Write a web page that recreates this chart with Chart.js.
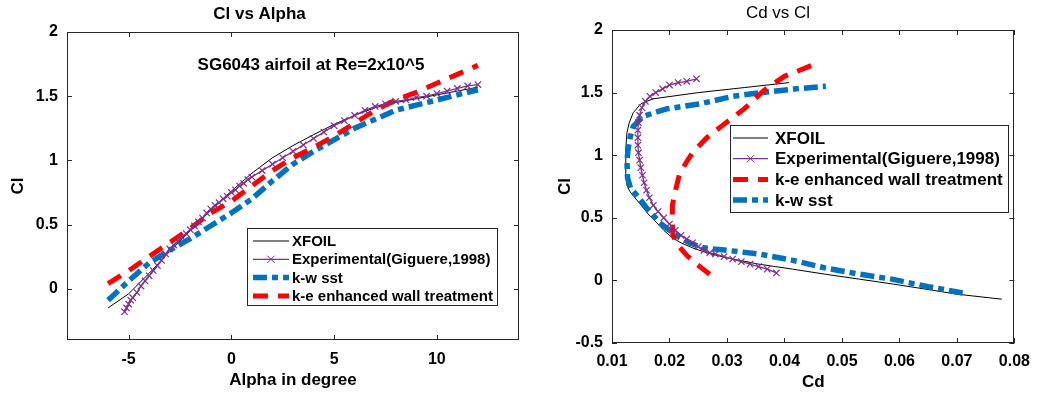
<!DOCTYPE html>
<html><head><meta charset="utf-8">
<script src="https://cdn.jsdelivr.net/npm/chart.js@4/dist/chart.umd.min.js"></script>
<style>
html,body{margin:0;padding:0;background:#fff;width:1039px;height:394px;overflow:hidden}
#c1{position:absolute;left:0;top:0}
#c2{position:absolute;left:540px;top:0}
</style></head><body>
<canvas id="c1" width="540" height="394"></canvas>
<canvas id="c2" width="499" height="394"></canvas>
<script>
// ---------- Panel 1: Cl vs Alpha ----------
const alphaXfoil = [-6,-5,-4,-3,-2,-1,0,1,2,3,4,5,6,7,8,9,10,11,12];
const clXfoil = [-0.15,-0.04,0.12,0.29,0.45,0.61,0.76,0.9,1.02,1.115,1.2,1.28,1.35,1.41,1.45,1.48,1.51,1.54,1.57];

const alphaExp = [-5.2,-5.1,-5.0,-4.9,-4.8,-4.6,-4.4,-4.2,-4.0,-3.8,-3.6,-3.4,-3.2,-3.0,-2.8,-2.6,-2.4,-2.2,-2.0,-1.8,-1.6,-1.4,-1.2,-1.0,-0.8,-0.6,-0.4,-0.2,0,0.2,0.4,0.6,0.8,1.0,1.5,2.0,2.5,3.0,3.5,4.0,4.5,5.0,5.5,6.0,6.5,7.0,7.5,8.0,8.5,9.0,9.5,10.0,10.5,11.0,11.5,12.0];
const clExp = [-0.18,-0.15,-0.12,-0.09,-0.07,-0.03,0.02,0.06,0.10,0.14,0.18,0.22,0.27,0.31,0.34,0.37,0.40,0.43,0.46,0.49,0.52,0.55,0.59,0.62,0.65,0.67,0.70,0.72,0.75,0.77,0.80,0.82,0.85,0.87,0.92,0.97,1.02,1.07,1.12,1.17,1.22,1.27,1.31,1.35,1.39,1.42,1.44,1.46,1.47,1.49,1.50,1.52,1.54,1.56,1.58,1.59];

const alphaCfd = [-6,-5,-4,-3,-2,-1,0,1,2,3,4,5,6,7,8,9,10,11,12];
const clKw = [-0.09,0.06,0.2,0.3,0.39,0.49,0.59,0.7,0.84,0.97,1.07,1.16,1.25,1.32,1.39,1.43,1.47,1.51,1.55];
const clKe = [0.04,0.14,0.25,0.36,0.47,0.59,0.68,0.8,0.92,1.02,1.1,1.19,1.29,1.39,1.47,1.53,1.6,1.67,1.74];

const alphaTicks = [-5,0,5,10];
const clTicks1 = [0,0.5,1,1.5,2];
const clTickLabels1 = ['0','0.5','1','1.5','2'];

// ---------- Panel 2: Cd vs Cl ----------
const cdXfoil = [0.0778,0.0700,0.0646,0.0590,0.0530,0.0470,0.0414,0.0355,0.0300,0.0265,0.0240,0.0220,0.0205,0.0190,0.0178,0.0163,0.0149,0.0138,0.0131,0.0126,0.0124,0.0124,0.0126,0.0130,0.0137,0.0150,0.0171,0.0250,0.0330,0.0408];
const clXfoil2 = [-0.15,-0.11,-0.07,-0.03,0.01,0.05,0.09,0.13,0.18,0.22,0.26,0.30,0.34,0.40,0.46,0.53,0.61,0.67,0.71,0.76,0.85,1.05,1.18,1.26,1.34,1.41,1.45,1.50,1.54,1.58];

const cdExp = [0.0386,0.0370,0.0355,0.0340,0.0325,0.0310,0.0295,0.0280,0.0270,0.0260,0.0250,0.0240,0.0230,0.0220,0.0210,0.0200,0.0190,0.0180,0.0172,0.0165,0.0160,0.0156,0.0153,0.0150,0.0148,0.0146,0.0145,0.0145,0.0145,0.0146,0.0148,0.0152,0.0158,0.0166,0.0176,0.0188,0.0200,0.0215,0.0230,0.0247];
const clExp2 = [0.06,0.09,0.11,0.13,0.15,0.17,0.19,0.21,0.22,0.24,0.27,0.30,0.33,0.36,0.40,0.45,0.50,0.55,0.60,0.66,0.72,0.78,0.84,0.90,0.96,1.02,1.08,1.14,1.20,1.26,1.32,1.38,1.43,1.47,1.50,1.53,1.56,1.58,1.59,1.61];

const cdKe = [0.0270,0.0247,0.0230,0.0215,0.0206,0.0205,0.0205,0.0210,0.0218,0.0240,0.0265,0.0290,0.0330,0.0365,0.0400,0.0460];
const clKe2 = [0.05,0.13,0.20,0.28,0.36,0.46,0.60,0.71,0.86,1.02,1.14,1.23,1.37,1.52,1.63,1.74];

const cdKw = [0.0710,0.0650,0.0587,0.0530,0.0470,0.0415,0.0357,0.0300,0.0258,0.0235,0.0218,0.0200,0.0183,0.0160,0.0143,0.0132,0.0127,0.0126,0.0128,0.0132,0.0137,0.0154,0.0195,0.0253,0.0310,0.0360,0.0420,0.0472];
const clKw2 = [-0.10,-0.05,0.01,0.05,0.10,0.16,0.21,0.24,0.26,0.30,0.34,0.40,0.46,0.58,0.68,0.74,0.82,0.95,1.05,1.15,1.23,1.31,1.37,1.41,1.47,1.50,1.53,1.55];

const cdTicks = [0.01,0.02,0.03,0.04,0.05,0.06,0.07,0.08];
const cdTickLabels = ['0.01','0.02','0.03','0.04','0.05','0.06','0.07','0.08'];
const clTicks2 = [-0.5,0,0.5,1,1.5,2];
const clTickLabels2 = ['-0.5','0','0.5','1','1.5','2'];

const seriesNames = ['XFOIL','Experimental(Giguere,1998)','k-w sst','k-e enhanced wall treatment'];

// ---------- helpers ----------
const FONT = "'Liberation Sans', Arial, sans-serif";
const pts = (xs, ys) => xs.map((x, i) => ({x: x, y: ys[i]}));
const C_BLACK = '#000000', C_PURPLE = '#7E2F8E', C_BLUE = '#0072BD', C_RED = '#FF0000';

function dsXfoil(data){return {label:seriesNames[0],data,borderColor:C_BLACK,borderWidth:1,pointRadius:0,showLine:true,order:3};}
function dsExp(data){return {label:seriesNames[1],data,borderColor:C_PURPLE,borderWidth:1.3,pointStyle:'crossRot',pointRadius:4.5,pointBorderColor:C_PURPLE,pointBorderWidth:1.2,pointBackgroundColor:C_PURPLE,showLine:true,order:0};}
function dsKw(data){return {label:seriesNames[2],data,borderColor:C_BLUE,borderWidth:5.5,borderDash:[14,5,6,5],pointRadius:0,showLine:true,order:2};}
function dsKe(data){return {label:seriesNames[3],data,borderColor:C_RED,borderWidth:5,borderDash:[15,10],pointRadius:0,showLine:true,order:1};}

const framePlugin = {
  id: 'frame',
  beforeDatasetsDraw(chart) {
    const {ctx, chartArea: a, scales} = chart;
    ctx.save();
    ctx.strokeStyle = '#262626'; ctx.lineWidth = 1;
    ctx.strokeRect(Math.round(a.left)+0.5, Math.round(a.top)+0.5, Math.round(a.right-a.left)-1, Math.round(a.bottom-a.top)-1);
    const L = 5;
    ctx.beginPath();
    scales.x.ticks.forEach(t => {
      const p = Math.round(scales.x.getPixelForValue(t.value)) + 0.5;
      ctx.moveTo(p, a.bottom); ctx.lineTo(p, a.bottom - L);
      ctx.moveTo(p, a.top); ctx.lineTo(p, a.top + L);
    });
    scales.y.ticks.forEach(t => {
      const p = Math.round(scales.y.getPixelForValue(t.value)) + 0.5;
      ctx.moveTo(a.left, p); ctx.lineTo(a.left + L, p);
      ctx.moveTo(a.right, p); ctx.lineTo(a.right - L, p);
    });
    ctx.stroke();
    ctx.restore();
  }
};

const boxLegendPlugin = {
  id: 'boxLegend',
  afterDatasetsDraw(chart, args, o) {
    if (!o || !o.items) return;
    const {ctx} = chart;
    const ds = chart.data.datasets;
    ctx.save();
    ctx.fillStyle = '#fff';
    ctx.fillRect(o.x, o.y, o.w, o.h);
    ctx.strokeStyle = '#262626'; ctx.lineWidth = 1;
    ctx.strokeRect(o.x + 0.5, o.y + 0.5, o.w, o.h);
    o.items.forEach((idx, i) => {
      const d = ds[idx];
      const y = o.y + o.first + i * o.step;
      ctx.beginPath();
      ctx.strokeStyle = d.borderColor; ctx.lineWidth = d.borderWidth;
      ctx.setLineDash(d.borderDash || []);
      ctx.moveTo(o.x + o.s0, y); ctx.lineTo(o.x + o.s1, y); ctx.stroke();
      ctx.setLineDash([]);
      if (d.pointRadius > 0) {
        const cx = o.x + (o.s0 + o.s1) / 2, r = d.pointRadius * 0.8;
        ctx.beginPath(); ctx.lineWidth = 1; ctx.strokeStyle = d.pointBorderColor;
        ctx.moveTo(cx - r, y - r); ctx.lineTo(cx + r, y + r);
        ctx.moveTo(cx - r, y + r); ctx.lineTo(cx + r, y - r); ctx.stroke();
      }
      ctx.fillStyle = '#000'; ctx.font = o.font; ctx.textBaseline = 'middle'; ctx.textAlign = 'left';
      ctx.fillText(d.label, o.x + o.tx, y + 1);
    });
    ctx.restore();
  }
};

const notePlugin = {
  id: 'note',
  afterDraw(chart, args, o) {
    if (!o || !o.text) return;
    const {ctx} = chart;
    ctx.save();
    ctx.font = o.font; ctx.fillStyle = '#000'; ctx.textAlign = 'center'; ctx.textBaseline = 'middle';
    ctx.fillText(o.text, o.x, o.y);
    ctx.restore();
  }
};

function fixedTicks(values) {
  return function(scale) { scale.ticks = values.map(v => ({value: v})); };
}

function makeChart(el, cfg) {
  return new Chart(document.getElementById(el), {
    type: 'scatter',
    data: {datasets: cfg.datasets},
    options: {
      responsive: false, animation: false, devicePixelRatio: 1, events: [],
      layout: {padding: {left: 0, right: cfg.padRight, top: 0, bottom: 0}},
      elements: {line: {tension: 0, borderCapStyle: 'butt', borderJoinStyle: 'miter'}},
      plugins: {
        legend: {display: false}, tooltip: {enabled: false},
        title: {display: true, text: cfg.title, color: '#000',
          font: {family: FONT, size: 17, weight: cfg.titleWeight}, padding: cfg.titlePad},
        boxLegend: cfg.legend,
        note: cfg.note || {}
      },
      scales: {
        x: {
          type: 'linear', min: cfg.xMin, max: cfg.xMax,
          afterBuildTicks: fixedTicks(cfg.xTicks),
          afterFit: s => { s.height = cfg.xHeight; },
          grid: {display: false, drawTicks: false}, border: {display: false},
          ticks: {font: {family: FONT, size: 16, weight: 'bold'}, color: '#000', padding: cfg.xTickPad, maxRotation: 0,
            autoSkip: false, callback: (v, i) => cfg.xLabels[i]},
          title: {display: true, text: cfg.xTitle, color: '#000', font: {family: FONT, size: 17, weight: 'bold'},
            padding: {top: 0, bottom: cfg.xTitlePad}}
        },
        y: {
          type: 'linear', min: cfg.yMin, max: cfg.yMax,
          afterBuildTicks: fixedTicks(cfg.yTicks),
          afterFit: s => { s.width = cfg.yWidth; },
          grid: {display: false, drawTicks: false}, border: {display: false},
          ticks: {font: {family: FONT, size: 16, weight: 'bold'}, color: '#000', padding: 9,
            autoSkip: false, callback: (v, i) => cfg.yLabels[i]},
          title: {display: true, text: 'Cl', color: '#000', font: {family: FONT, size: 17, weight: 'bold'},
            padding: {top: cfg.yTitlePad, bottom: 0}}
        }
      }
    },
    plugins: [framePlugin, boxLegendPlugin, notePlugin]
  });
}

makeChart('c1', {
  datasets: [
    dsXfoil(pts(alphaXfoil, clXfoil)),
    dsExp(pts(alphaExp, clExp)),
    dsKw(pts(alphaCfd, clKw)),
    dsKe(pts(alphaCfd, clKe))
  ],
  title: 'Cl vs Alpha', titleWeight: 'bold', titlePad: {top: 4, bottom: 7.6},
  padRight: 21,
  xMin: -8, xMax: 14, xTicks: alphaTicks, xLabels: alphaTicks.map(String), xHeight: 54, xTickPad: 10,
  xTitle: 'Alpha in degree', xTitlePad: 3,
  yMin: -0.4, yMax: 2, yTicks: clTicks1, yLabels: clTickLabels1, yWidth: 67, yTitlePad: 8,
  legend: {items: [0,1,2,3], x: 247, y: 228, w: 250, h: 77, s0: 6, s1: 42, tx: 45, first: 13, step: 18.3,
    font: "bold 15px " + FONT},
  note: {text: 'SG6043 airfoil at Re=2x10^5', x: 311, y: 65, font: "bold 17px " + FONT}
});

makeChart('c2', {
  datasets: [
    dsXfoil(pts(cdXfoil, clXfoil2)),
    dsExp(pts(cdExp, clExp2)),
    dsKw(pts(cdKw, clKw2)),
    dsKe(pts(cdKe, clKe2))
  ],
  title: 'Cd vs Cl', titleWeight: 'normal', titlePad: {top: 3, bottom: 6.6},
  padRight: 23,
  xMin: 0.01, xMax: 0.08, xTicks: cdTicks, xLabels: cdTickLabels, xHeight: 51, xTickPad: 9,
  xTitle: 'Cd', xTitlePad: 1.5,
  yMin: -0.5, yMax: 2, yTicks: clTicks2, yLabels: clTickLabels2, yWidth: 72, yTitlePad: 15,
  legend: {items: [0,1,3,2], x: 190, y: 125, w: 278, h: 87, s0: 3, s1: 38, tx: 45, first: 13, step: 20.7,
    font: "bold 17px " + FONT}
});
</script>
</body></html>
